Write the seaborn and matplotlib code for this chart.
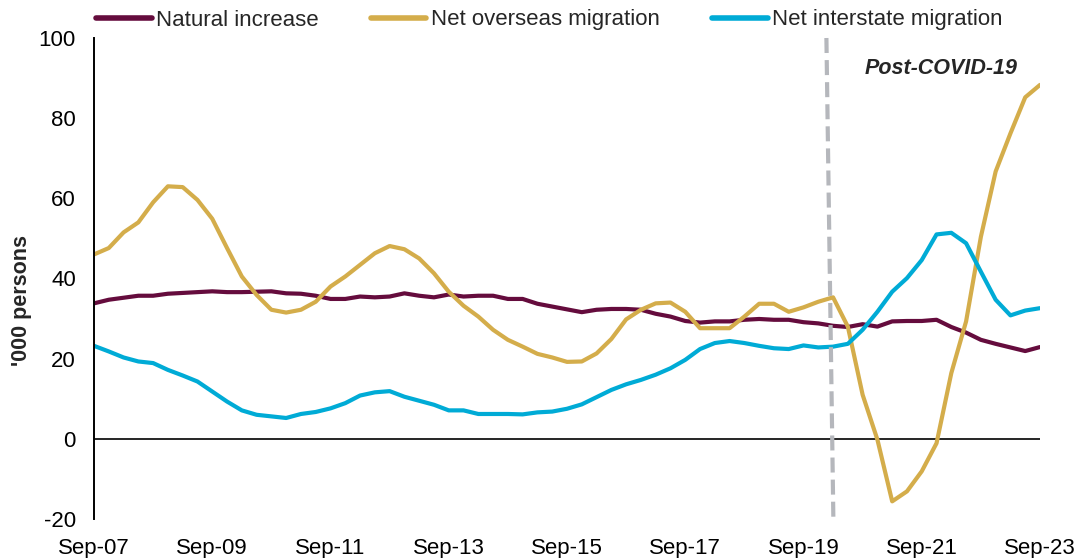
import numpy as np
import pandas as pd
import matplotlib
matplotlib.use("Agg")
import matplotlib.pyplot as plt
from matplotlib.lines import Line2D
import seaborn as sns

# Quarterly components of population change, Sep-07 to Sep-23 ('000 persons)
quarters = pd.period_range("2007Q3", "2023Q3", freq="Q")
quarter_labels = [f"Sep-{str(p.year)[2:]}" if p.quarter == 3 else "" for p in quarters]

natural_increase = [
    33.8, 34.7, 35.2, 35.7, 35.7, 36.2, 36.4, 36.6, 36.8, 36.6,
    36.6, 36.7, 36.8, 36.3, 36.2, 35.7, 34.9, 34.9, 35.5, 35.3,
    35.5, 36.3, 35.7, 35.3, 36.0, 35.5, 35.7, 35.7, 34.9, 34.9,
    33.7, 33.0, 32.3, 31.6, 32.2, 32.4, 32.4, 32.2, 31.2, 30.5,
    29.4, 29.0, 29.3, 29.3, 29.7, 29.9, 29.7, 29.7, 29.1, 28.8,
    28.2, 27.9, 28.6, 28.0, 29.3, 29.4, 29.4, 29.7, 27.9, 26.5,
    24.7, 23.7, 22.8, 21.9, 22.9,
]
net_overseas = [
    46.0, 47.6, 51.5, 54.0, 59.0, 63.0, 62.8, 59.6, 54.9, 47.6,
    40.5, 35.9, 32.2, 31.5, 32.2, 34.2, 38.0, 40.5, 43.4, 46.3,
    48.1, 47.3, 45.0, 41.3, 36.7, 33.2, 30.5, 27.2, 24.7, 23.0,
    21.2, 20.3, 19.2, 19.3, 21.3, 24.9, 29.8, 32.2, 33.8, 34.0,
    31.7, 27.6, 27.6, 27.6, 30.5, 33.7, 33.7, 31.7, 32.8, 34.2,
    35.3, 28.0, 11.0, -0.2, -15.6, -13.1, -8.1, -1.1, 16.4, 29.3,
    50.4, 66.7, 76.2, 85.2, 88.3,
]
net_interstate = [
    23.2, 21.8, 20.3, 19.3, 18.9, 17.2, 15.8, 14.3, 11.8, 9.3,
    7.1, 6.0, 5.6, 5.2, 6.2, 6.7, 7.6, 8.9, 10.8, 11.6,
    11.9, 10.5, 9.5, 8.5, 7.1, 7.1, 6.2, 6.2, 6.2, 6.1,
    6.6, 6.8, 7.5, 8.6, 10.4, 12.2, 13.6, 14.7, 16.0, 17.6,
    19.7, 22.4, 23.9, 24.4, 23.9, 23.2, 22.6, 22.4, 23.3, 22.8,
    23.0, 23.7, 27.2, 31.7, 36.7, 40.1, 44.6, 51.0, 51.4, 48.8,
    41.7, 34.7, 30.8, 32.0, 32.6,
]

series_names = ["Natural increase", "Net overseas migration", "Net interstate migration"]
series_colors = ["#650c3d", "#d4ad4b", "#00abd6"]

df = pd.DataFrame({
    "t": np.tile(np.arange(len(quarters)), 3),
    "value": natural_increase + net_overseas + net_interstate,
    "series": np.repeat(series_names, len(quarters)),
})

sns.set_theme(style="white")
plt.rcParams["font.family"] = ["Liberation Sans", "DejaVu Sans"]
plt.rcParams["axes.unicode_minus"] = False

fig = plt.figure(figsize=(10.76, 5.58), dpi=100)
ax = fig.add_axes([94 / 1076, 1 - 519 / 558, (1040 - 94) / 1076, (519 - 38) / 558])

sns.lineplot(data=df, x="t", y="value", hue="series", hue_order=series_names,
             palette=series_colors, linewidth=3.0, ax=ax, legend=False)

ax.set_xlim(0, len(quarters) - 1)
ax.set_ylim(-20, 100)
ax.set_yticks(np.arange(-20, 101, 20))
tick_pos = [i for i, lab in enumerate(quarter_labels) if lab and (i % 8 == 0)]
ax.set_xticks(tick_pos)
ax.set_xticklabels([quarter_labels[i] for i in tick_pos])
ax.tick_params(axis="both", length=0, labelsize=16, colors="black")
ax.tick_params(axis="x", pad=14)
ax.tick_params(axis="y", pad=13)

for side in ["top", "right", "bottom"]:
    ax.spines[side].set_visible(False)
ax.spines["left"].set_color("black")
ax.spines["left"].set_linewidth(1.4)
ax.axhline(0, color="black", linewidth=1.2, zorder=1)

ax.set_xlabel("")
ax.set_ylabel("'000 persons", fontsize=15.5, fontweight="bold")
ax.yaxis.set_label_coords(-0.066, 0.455)

# COVID-19 break marker
ax.plot([49.55, 50.02], [100, -19.8], color="#b5b7bc", linewidth=3.0,
        dashes=(3.6, 1.7), zorder=5, clip_on=False)
ax.text(57.3, 92.3, "Post-COVID-19", fontsize=15.5, fontweight="bold",
        fontstyle="italic", ha="center", va="center")

handles = [Line2D([0], [0], color=c, linewidth=4) for c in series_colors]
fig.legend(handles, series_names, loc="center left",
           bbox_to_anchor=(96 / 1076, 1 - 20 / 558), ncol=3, frameon=False,
           fontsize=16, handlelength=2.5, handletextpad=0.2, columnspacing=2.35,
           borderpad=0, borderaxespad=0)

fig.savefig("out.png", dpi=100)
